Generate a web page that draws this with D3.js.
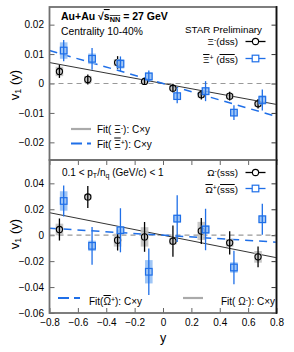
<!DOCTYPE html>
<html>
<head>
<meta charset="utf-8">
<script src="https://cdn.jsdelivr.net/npm/d3@7"></script>
<style>
  body { margin: 0; background: #fff; }
  svg { display: block; font-family: "Liberation Sans", Arial, Helvetica, sans-serif; }
  .ov { text-decoration: overline; }
</style>
</head>
<body>
<svg id="chart" width="294" height="352"></svg>
<script>
// rapidity bins (circles are shifted a bit to the left of the squares)
const yMinus = [-0.73, -0.53, -0.32, -0.13, 0.07, 0.27, 0.47, 0.67];
const yPlus = [-0.70, -0.50, -0.30, -0.10, 0.10, 0.30, 0.50, 0.70];

// top panel: Xi- and anti-Xi+
const xiMinusV1 = [0.0041, 0.0014, 0.0071, 0.0007, -0.0016, -0.0038, -0.0043, -0.0069];
const xiMinusStat = [0.0022, 0.0017, 0.0022, 0.0012, 0.0015, 0.0016, 0.0015, 0.0016];
const xiMinusSys = [0.0016, 0.0012, 0.0012, 0.0008, 0.0008, 0.0010, 0.0009, 0.0010];
const xiPlusV1 = [0.0112, 0.0084, 0.0067, 0.0024, -0.0043, -0.0026, -0.0099, -0.0056];
const xiPlusStat = [0.0036, 0.0037, 0.0025, 0.0020, 0.0024, 0.0034, 0.0025, 0.0036];
const xiPlusSys = [0.0028, 0.0018, 0.0016, 0.0014, 0.0012, 0.0014, 0.0012, 0.0016];

// bottom panel: Omega- and anti-Omega+
const omMinusV1 = [0.0044, 0.0295, -0.0038, -0.0013, -0.0046, 0.0033, -0.0059, -0.0167];
const omMinusStat = [0.0085, 0.0085, 0.0080, 0.0115, 0.0120, 0.0100, 0.0090, 0.0080];
const omMinusSys = [0.0045, 0.0020, 0.0050, 0.0075, 0.0025, 0.0070, 0.0030, 0.0045];
const omPlusV1 = [0.0264, -0.0082, 0.0038, -0.0282, 0.0128, 0.0044, -0.0249, 0.0123];
const omPlusStat = [0.0120, 0.0145, 0.0170, 0.0180, 0.0180, 0.0160, 0.0130, 0.0120];
const omPlusSys = [0.0075, 0.0040, 0.0030, 0.0090, 0.0030, 0.0035, 0.0040, 0.0030];

// fitted slopes C for v1 = C*y
const fitXiMinus = -0.0089;
const fitXiPlus = -0.0140;
const fitOmMinus = -0.0217;
const fitOmPlus = -0.0067;

const xTicks = [-0.8, -0.6, -0.4, -0.2, 0, 0.2, 0.4, 0.6, 0.8];
const topTicks = [-0.02, -0.01, 0, 0.01, 0.02];
const botTicks = [-0.06, -0.04, -0.02, 0, 0.02, 0.04];

const blue = '#1f6fe8';
const svg = d3.select('#chart');
const left = 49.5, right = 276.5;
const x = d3.scaleLinear().domain([-0.8, 0.8]).range([left, right]);
const yTop = d3.scaleLinear().domain([-0.026, 0.026]).range([160, 7]);
const yBot = d3.scaleLinear().domain([-0.06, 0.058]).range([313, 160]);
const fmt = d => d === 0 ? '0' : d3.format('.2~f')(d);

function richText(g, px, py, parts, opts) {
  opts = opts || {};
  const t = g.append('text').attr('x', px).attr('y', py)
    .attr('font-size', opts.size || 10)
    .attr('text-anchor', opts.anchor || 'start')
    .attr('fill', '#000');
  if (opts.bold) t.attr('font-weight', 'bold');
  if (opts.rotate) t.attr('transform', `rotate(-90,${px},${py})`);
  parts.forEach(p => {
    const s = t.append('tspan').text(p.t);
    if (p.sup) s.attr('baseline-shift', '45%').attr('font-size', '70%');
    if (p.sub) s.attr('baseline-shift', '-25%').attr('font-size', '70%');
    if (p.bar) s.attr('class', 'ov');
  });
  return t;
}

function panel(y, yTicks, ticksTop, ticksBottom) {
  const g = svg.append('g');
  const [y0, y1] = y.range();
  g.append('g')
    .attr('transform', `translate(${left},0)`)
    .call(d3.axisLeft(y).tickValues(yTicks).tickSize(-5).tickPadding(5.5).tickFormat(fmt))
    .call(a => a.select('.domain').remove())
    .call(a => a.selectAll('line').attr('stroke', '#666'))
    .call(a => a.selectAll('text').attr('font-size', 10).attr('font-family', 'Liberation Sans, Arial'));
  g.append('g')
    .attr('transform', `translate(${right},0)`)
    .call(d3.axisRight(y).tickValues(yTicks).tickSize(-5).tickFormat(''))
    .call(a => a.select('.domain').remove())
    .call(a => a.selectAll('line').attr('stroke', '#333'));
  if (ticksTop) {
    g.append('g').attr('transform', `translate(0,${y1})`)
      .call(d3.axisTop(x).tickValues(xTicks).tickSize(-5).tickFormat(''))
      .call(a => a.select('.domain').remove())
      .call(a => a.selectAll('line').attr('stroke', '#666'));
  }
  if (ticksBottom) {
    g.append('g').attr('transform', `translate(0,${y0})`)
      .call(d3.axisBottom(x).tickValues(xTicks).tickSize(-5).tickPadding(6).tickFormat(d => d === 0 ? '0' : d3.format('.1f')(d)))
      .call(a => a.select('.domain').remove())
      .call(a => a.selectAll('line').attr('stroke', '#666'))
      .call(a => a.selectAll('text').attr('font-size', 10).attr('font-family', 'Liberation Sans, Arial'));
  }
  // zero line
  g.append('line')
    .attr('x1', left).attr('x2', right).attr('y1', y(0)).attr('y2', y(0))
    .attr('stroke', '#999').attr('stroke-width', 1.2).attr('stroke-dasharray', '5,4');
  return g;
}

function fitLine(g, y, c, dashed) {
  const line = d3.line().x(d => x(d)).y(d => y(c * d));
  g.append('path').datum([-0.8, 0.8]).attr('d', line)
    .attr('fill', 'none')
    .attr('stroke', dashed ? blue : '#333')
    .attr('stroke-width', dashed ? 1.5 : 1)
    .attr('stroke-dasharray', dashed ? '8,6' : null);
}

function series(g, y, xs, vals, stat, sys, kind) {
  const isBlue = kind === 'square';
  const col = isBlue ? blue : '#000';
  const pts = xs.map((d, i) => ({ x: d, v: vals[i], e: stat[i], s: sys[i] }));
  g.selectAll(null).data(pts).enter().append('rect')
    .attr('x', d => x(d.x) - 3.8).attr('width', 7.6)
    .attr('y', d => y(d.v + d.s)).attr('height', d => y(d.v - d.s) - y(d.v + d.s))
    .attr('fill', isBlue ? '#8ebcf4' : '#bdbdbd').attr('opacity', 0.85);
  g.selectAll(null).data(pts).enter().append('line')
    .attr('x1', d => x(d.x)).attr('x2', d => x(d.x))
    .attr('y1', d => y(d.v + d.e)).attr('y2', d => y(d.v - d.e))
    .attr('stroke', col).attr('stroke-width', 1.3);
  if (isBlue) {
    g.selectAll(null).data(pts).enter().append('rect')
      .attr('x', d => x(d.x) - 3.3).attr('y', d => y(d.v) - 3.3)
      .attr('width', 6.6).attr('height', 6.6)
      .attr('fill', 'none').attr('stroke', blue).attr('stroke-width', 1.2);
  } else {
    g.selectAll(null).data(pts).enter().append('circle')
      .attr('cx', d => x(d.x)).attr('cy', d => y(d.v)).attr('r', 3.1)
      .attr('fill', 'none').attr('stroke', '#000').attr('stroke-width', 1.1);
  }
}

function legendMarker(g, px, py, kind) {
  const isBlue = kind === 'square';
  g.append('line').attr('x1', px - 10).attr('x2', px + 10).attr('y1', py).attr('y2', py)
    .attr('stroke', isBlue ? blue : '#000').attr('stroke-width', 1.3);
  if (isBlue) {
    g.append('rect').attr('x', px - 3.3).attr('y', py - 3.3).attr('width', 6.6).attr('height', 6.6)
      .attr('fill', '#fff').attr('stroke', blue).attr('stroke-width', 1.2);
  } else {
    g.append('circle').attr('cx', px).attr('cy', py).attr('r', 3.1)
      .attr('fill', '#fff').attr('stroke', '#000').attr('stroke-width', 1.1);
  }
}

function legendLine(g, x1, x2, py, dashed) {
  g.append('line').attr('x1', x1).attr('x2', x2).attr('y1', py).attr('y2', py)
    .attr('stroke', dashed ? blue : '#aaa').attr('stroke-width', dashed ? 1.8 : 2.2)
    .attr('stroke-dasharray', dashed ? '11,5' : null);
}

// ---- top panel ----
const gt = panel(yTop, topTicks, false, false);
fitLine(gt, yTop, fitXiMinus, false);
fitLine(gt, yTop, fitXiPlus, true);
series(gt, yTop, yMinus, xiMinusV1, xiMinusStat, xiMinusSys, 'circle');
series(gt, yTop, yPlus, xiPlusV1, xiPlusStat, xiPlusSys, 'square');

richText(gt, 61, 20, [{ t: 'Au+Au √' }, { t: 's', bar: true }, { t: 'NN', sub: true, bar: true }, { t: ' = 27 GeV' }], { bold: true, size: 10.5 });
richText(gt, 61, 35, [{ t: 'Centrality 10-40%' }], { size: 10.3 });
richText(gt, 262, 33, [{ t: 'STAR Preliminary' }], { anchor: 'end', size: 9.8 });
richText(gt, 238, 45, [{ t: 'Ξ' }, { t: '-', sup: true }, { t: '(dss)' }], { anchor: 'end', size: 9.8 });
legendMarker(gt, 255.5, 41.5, 'circle');
richText(gt, 238, 63, [{ t: 'Ξ', bar: true }, { t: '+', sup: true }, { t: ' (' }, { t: 'dss', bar: true }, { t: ')' }], { anchor: 'end', size: 9.8 });
legendMarker(gt, 255.5, 58.5, 'square');

legendLine(gt, 71, 91, 129, false);
richText(gt, 97, 133, [{ t: 'Fit( Ξ' }, { t: '-', sup: true }, { t: '): C×y' }], { size: 10 });
legendLine(gt, 71, 91, 143.5, true);
richText(gt, 97, 147.5, [{ t: 'Fit( ' }, { t: 'Ξ', bar: true }, { t: '+', sup: true }, { t: '): C×y' }], { size: 10 });

// ---- bottom panel ----
const gb = panel(yBot, botTicks, true, true);
fitLine(gb, yBot, fitOmMinus, false);
fitLine(gb, yBot, fitOmPlus, true);
series(gb, yBot, yMinus, omMinusV1, omMinusStat, omMinusSys, 'circle');
series(gb, yBot, yPlus, omPlusV1, omPlusStat, omPlusSys, 'square');

richText(gb, 62, 176, [{ t: '0.1 < p' }, { t: 'T', sub: true }, { t: '/n' }, { t: 'q', sub: true }, { t: ' (GeV/c) < 1' }], { size: 10 });
richText(gb, 238, 176, [{ t: 'Ω' }, { t: '-', sup: true }, { t: '(sss)' }], { anchor: 'end', size: 9.8 });
legendMarker(gb, 255.5, 172.5, 'circle');
richText(gb, 238, 193, [{ t: 'Ω', bar: true }, { t: '+', sup: true }, { t: '(' }, { t: 'sss', bar: true }, { t: ')' }], { anchor: 'end', size: 9.8 });
legendMarker(gb, 255.5, 188.5, 'square');

legendLine(gb, 58, 80, 298, true);
richText(gb, 89, 305, [{ t: 'Fit(' }, { t: 'Ω', bar: true }, { t: '+', sup: true }, { t: '): C×y' }], { size: 10 });
legendLine(gb, 183, 203, 298, false);
richText(gb, 221, 305, [{ t: 'Fit( Ω' }, { t: '-', sup: true }, { t: '): C×y' }], { size: 10 });

// ---- frames ----
[[7, 160], [160, 313]].forEach(([t, b]) => {
  svg.append('rect').attr('x', left).attr('y', t).attr('width', right - left).attr('height', b - t)
    .attr('fill', 'none').attr('stroke', '#707070').attr('stroke-width', 1.8);
  svg.append('line').attr('x1', right).attr('x2', right).attr('y1', t - 0.9).attr('y2', b + 0.9)
    .attr('stroke', '#111').attr('stroke-width', 1.6);
});

// axis titles
richText(svg, 19, 85, [{ t: 'v' }, { t: '1', sub: true }, { t: ' (y)' }], { size: 13, anchor: 'middle', rotate: true });
richText(svg, 19, 234, [{ t: 'v' }, { t: '1', sub: true }, { t: ' (y)' }], { size: 13, anchor: 'middle', rotate: true });
svg.append('text').attr('x', x(0)).attr('y', 342).attr('text-anchor', 'middle')
  .attr('font-size', 12.5).text('y');
</script>
</body>
</html>
